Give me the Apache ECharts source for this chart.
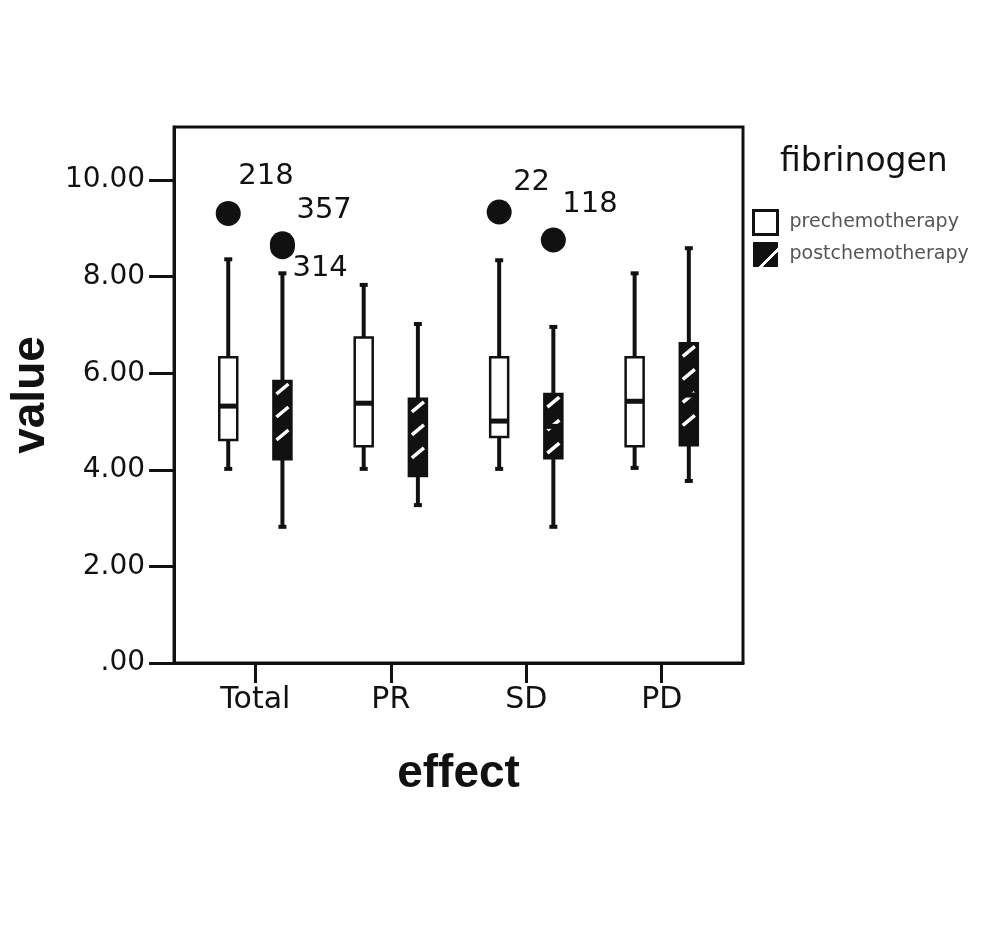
<!DOCTYPE html>
<html>
<head>
<meta charset="utf-8">
<title>fibrinogen box plot</title>
<script src="https://cdn.jsdelivr.net/npm/echarts@6/dist/echarts.min.js"></script>
<style>
  html, body { margin: 0; padding: 0; background: #fff; }
  #main { width: 1004px; height: 945px; }
</style>
</head>
<body>
<div id="main"></div>
<script>
// x axis categories
const categories = ["Total", "PR", "SD", "PD"];
// box stats per category: [min, Q1, median, Q3, max]
const preStats = [
  [4.02, 4.62, 5.32, 6.33, 8.36],
  [4.02, 4.49, 5.38, 6.74, 7.83],
  [4.02, 4.68, 5.01, 6.33, 8.34],
  [4.04, 4.49, 5.42, 6.33, 8.07],
];
const postStats = [
  [2.82, 4.22, 5.0, 5.84, 8.07],
  [3.27, 3.87, 4.6, 5.47, 7.02],
  [2.82, 4.24, 4.9, 5.57, 6.96],
  [3.77, 4.51, 5.55, 6.62, 8.59],
];
// outliers: [category index, group, value, case number]
const outliers = [
  [0, "pre", 9.31, "218"],
  [0, "post", 8.68, "357"],
  [0, "post", 8.62, "314"],
  [2, "pre", 9.34, "22"],
  [2, "post", 8.76, "118"],
];
const yTicks = [0, 2, 4, 6, 8, 10];
const yTickLabels = [".00", "2.00", "4.00", "6.00", "8.00", "10.00"];

// layout / style
const groupShift = { pre: -0.2, post: 0.2 };
const BOX_W = 18;
const DOT = 25;
// label offset from dot centre (left edge of text, vertical middle)
const labelOffset = {
  "218": [10, -37],
  "357": [14, -33],
  "314": [10, 22],
  "22": [14, -30],
  "118": [9, -36],
};
const ink = "#111";

function renderBox(hatched) {
  return function (params, api) {
    const x = api.value(0);
    const lo = api.coord([x, api.value(1)]);
    const q1 = api.coord([x, api.value(2)]);
    const md = api.coord([x, api.value(3)]);
    const q3 = api.coord([x, api.value(4)]);
    const hi = api.coord([x, api.value(5)]);
    const cx = lo[0];
    const x0 = cx - BOX_W / 2;
    const line = (x1, y1, x2, y2, w, c) => ({
      type: "line",
      shape: { x1, y1, x2, y2 },
      style: { stroke: c || ink, lineWidth: w },
    });
    const kids = [
      line(cx, hi[1], cx, q3[1], 4),
      line(cx, q1[1], cx, lo[1], 4),
      line(cx - 4, hi[1], cx + 4, hi[1], 4),
      line(cx - 4, lo[1], cx + 4, lo[1], 4),
      {
        type: "rect",
        shape: { x: x0, y: q3[1], width: BOX_W, height: q1[1] - q3[1] },
        style: { fill: hatched ? ink : "#fff", stroke: ink, lineWidth: 2.5 },
      },
    ];
    if (hatched) {
      // white diagonal stripes
      for (let y = q3[1] + 8; y < q1[1] - 5; y += 23) {
        kids.push(line(x0 + 3, y + 5, x0 + BOX_W - 3, y - 5, 3.5, "#fff"));
      }
    }
    kids.push(line(x0, md[1], x0 + BOX_W, md[1], 5));
    return { type: "group", children: kids };
  };
}

const chart = echarts.init(document.getElementById("main"));
chart.setOption({
  backgroundColor: "#fff",
  animation: false,
  title: {
    text: "fibrinogen",
    left: 780,
    top: 146,
    padding: 0,
    textStyle: { fontFamily: "DejaVu Sans", fontSize: 33, fontWeight: "normal", color: ink },
  },
  legend: {
    orient: "vertical",
    left: 752,
    top: 209,
    padding: 0,
    itemWidth: 24,
    itemHeight: 24,
    itemGap: 6,
    textStyle: { fontFamily: "DejaVu Sans", fontSize: 19, color: "#555", padding: [4, 0, 0, 7] },
    data: [
      {
        name: "prechemotherapy",
        icon: "rect",
        itemStyle: { color: "#fff", borderColor: ink, borderWidth: 3 },
      },
      {
        name: "postchemotherapy",
        icon: "path://M0,0L24,0L24,5L5,24L0,24Z M24,10L24,24L10,24Z",
        itemStyle: { color: ink, borderColor: ink, borderWidth: 1 },
      },
    ],
  },
  grid: {
    left: 173,
    right: 261,
    top: 127,
    bottom: 282,
    show: true,
    borderColor: ink,
    borderWidth: 3,
  },
  xAxis: {
    type: "value",
    min: -0.6,
    max: 3.6,
    name: "effect",
    nameLocation: "middle",
    nameGap: 88,
    nameTextStyle: { fontFamily: "Liberation Sans", fontSize: 46, fontWeight: "bold", color: ink },
    axisLine: { show: true, onZero: false, lineStyle: { color: ink, width: 3 } },
    axisTick: { show: true, customValues: [0, 1, 2, 3], length: 20, lineStyle: { color: ink, width: 3 } },
    axisLabel: {
      customValues: [0, 1, 2, 3],
      formatter: (v) => categories[Math.round(v)],
      margin: 22,
      fontFamily: "DejaVu Sans",
      fontSize: 30,
      color: ink,
    },
    splitLine: { show: false },
  },
  yAxis: {
    type: "value",
    min: 0,
    max: 11.1,
    name: "value",
    nameLocation: "middle",
    nameGap: 118,
    nameRotate: 90,
    nameTextStyle: { fontFamily: "Liberation Sans", fontSize: 46, fontWeight: "bold", color: ink },
    axisLine: { show: true, onZero: false, lineStyle: { color: ink, width: 3 } },
    axisTick: { show: true, customValues: yTicks, length: 25, lineStyle: { color: ink, width: 3 } },
    axisLabel: {
      customValues: yTicks,
      formatter: (v) => yTickLabels[yTicks.indexOf(v)],
      margin: 29,
      fontFamily: "DejaVu Sans",
      fontSize: 28,
      color: ink,
    },
    splitLine: { show: false },
  },
  series: [
    {
      name: "prechemotherapy",
      type: "custom",
      renderItem: renderBox(false),
      itemStyle: { color: "#fff" },
      encode: { x: 0, y: [1, 2, 3, 4, 5] },
      data: preStats.map((s, i) => [i + groupShift.pre, ...s]),
      z: 2,
    },
    {
      name: "postchemotherapy",
      type: "custom",
      renderItem: renderBox(true),
      itemStyle: { color: ink },
      encode: { x: 0, y: [1, 2, 3, 4, 5] },
      data: postStats.map((s, i) => [i + groupShift.post, ...s]),
      z: 2,
    },
    {
      name: "outliers",
      type: "scatter",
      symbol: "circle",
      symbolSize: DOT,
      itemStyle: { color: ink, opacity: 1 },
      z: 3,
      label: {
        show: true,
        formatter: "{b}",
        align: "left",
        verticalAlign: "middle",
        fontFamily: "DejaVu Sans",
        fontSize: 29,
        color: ink,
      },
      data: outliers.map((o) => ({
        name: o[3],
        value: [o[0] + groupShift[o[1]], o[2]],
        label: {
          position: [labelOffset[o[3]][0] + DOT / 2, labelOffset[o[3]][1] + DOT / 2],
        },
      })),
    },
  ],
});
window.addEventListener("resize", () => chart.resize());
</script>
</body>
</html>
